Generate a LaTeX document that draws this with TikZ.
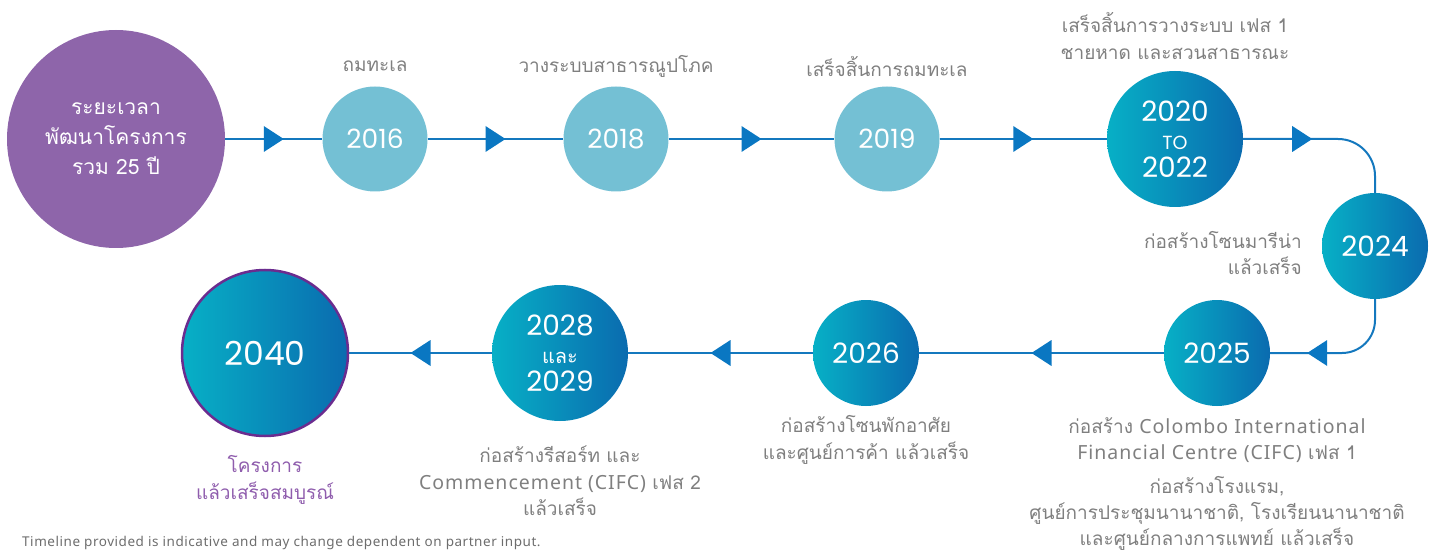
\documentclass[tikz,border=0pt]{standalone}
\usepackage{fontspec}
\setmainfont[Script=Thai]{Loma}
\newfontfamily\latf[LetterSpace=5]{Noto Sans}
\newfontfamily\footf[LetterSpace=4]{Noto Sans}
\newfontfamily\numf{Poppins}
\usetikzlibrary{decorations.markings}
\definecolor{purpfill}{HTML}{8E65AA}
\definecolor{purpline}{HTML}{6B2C8F}
\definecolor{purptext}{HTML}{8F5DAD}
\definecolor{litefill}{HTML}{74C0D4}
\definecolor{gradL}{HTML}{07B0C6}
\definecolor{gradR}{HTML}{0A6BAF}
\definecolor{linec}{HTML}{1478BE}
\definecolor{arrc}{HTML}{0A77C2}
\definecolor{labc}{HTML}{7F7F7F}
\definecolor{footc}{HTML}{6D6D6D}
\tikzset{
  circbase/.style={circle, inner sep=0pt, text=white, align=center},
  purpcirc/.style={circbase, fill=purpfill, minimum size=218pt,
    font=\fontsize{21}{30}\selectfont},
  litecirc/.style={circbase, fill=litefill, minimum size=105pt,
    font=\numf\fontsize{26.5}{28}\selectfont},
  gradcirc/.style={circbase, left color=gradL, right color=gradR, minimum size=106pt,
    font=\numf\fontsize{28}{28}\selectfont},
  conn/.style={draw=linec, line width=2pt},
  midarr/.style={decoration={markings, mark=at position #1 with
    {\fill[arrc, sharp corners] (-10pt,-13pt) -- (10pt,0pt) -- (-10pt,13pt) -- cycle;}},
    postaction={decorate}},
  midarr/.default=0.5,
  lab/.style={text=labc, align=center, inner sep=0pt,
    font=\fontsize{19}{26.5}\selectfont},
}
\begin{document}
\begin{tikzpicture}[x=1pt,y=-1pt]
\useasboundingbox (0,0) rectangle (1437,553);
% circles
\node[purpcirc] (start) at (116,139) {ระยะเวลา\\พัฒนาโครงการ\\รวม 25 ปี};
\node[litecirc] (y16) at (375,139) {2016};
\node[litecirc] (y18) at (616,139) {2018};
\node[litecirc] (y19) at (887,139) {2019};
\node[gradcirc, minimum size=136pt] (y20) at (1175,139)
  {2020\\{\fontsize{19}{20}\selectfont TO}\\2022};
\node[gradcirc] (y24) at (1375,246) {2024};
\node[gradcirc] (y25) at (1217,353) {2025};
\node[gradcirc] (y26) at (866,353) {2026};
\node[gradcirc, minimum size=136pt] (y28) at (560,353)
  {2028\\{\rmfamily\fontsize{20}{22}\selectfont และ}\\2029};
\node[gradcirc, minimum size=166pt, draw=purpline, line width=2.5pt,
  font=\numf\fontsize{33}{36}\selectfont] (y40) at (265,353) {2040};
% connectors
\draw[conn, midarr] (start) -- (y16);
\draw[conn, midarr] (y16) -- (y18);
\draw[conn, midarr] (y18) -- (y19);
\draw[conn, midarr] (y19) -- (y20);
\draw[conn, rounded corners=37pt, midarr=59pt] (y20) -| (y24);
\draw[conn, rounded corners=33pt, midarr=-47pt] (y24) |- (y25);
\draw[conn, midarr] (y25) -- (y26);
\draw[conn, midarr] (y26) -- (y28);
\draw[conn, midarr] (y28) -- (y40);
% labels
\node[lab] (l16) at (375,66) {ถมทะเล};
\node[lab] (l18) at (616,66) {วางระบบสาธารณูปโภค};
\node[lab] (l19) at (887,66) {เสร็จสิ้นการถมทะเล};
\node[lab] (l20) at (1175,36) {เสร็จสิ้นการวางระบบ เฟส 1\\ชายหาด และสวนสาธารณะ};
\node[lab, align=right, anchor=east] (l24) at (1302,253) {ก่อสร้างโซนมารีน่า\\แล้วเสร็จ};
\node[lab] (l25a) at (1217,440) {ก่อสร้าง {\latf\fontsize{19.5}{26.5}\selectfont Colombo International}\\{\latf\fontsize{19.5}{26.5}\selectfont Financial Centre (CIFC)} เฟส 1};
\node[lab, font=\fontsize{19}{26}\selectfont] (l25b) at (1217,513) {ก่อสร้างโรงแรม,\\ศูนย์การประชุมนานาชาติ, โรงเรียนนานาชาติ\\และศูนย์กลางการแพทย์ แล้วเสร็จ};
\node[lab] (l26) at (866,440) {ก่อสร้างโซนพักอาศัย\\และศูนย์การค้า แล้วเสร็จ};
\node[lab] (l28) at (560,481) {ก่อสร้างรีสอร์ท และ\\{\latf\fontsize{19.5}{26.5}\selectfont Commencement (CIFC)} เฟส 2\\แล้วเสร็จ};
\node[lab, text=purptext] (l40) at (265,480) {โครงการ\\แล้วเสร็จสมบูรณ์};
\node[anchor=west, inner sep=0pt, text=footc, font=\footf\fontsize{13.5}{15}\selectfont] (foot) at (22,543)
  {Timeline provided is indicative and may change dependent on partner input.};
\end{tikzpicture}
\end{document}
